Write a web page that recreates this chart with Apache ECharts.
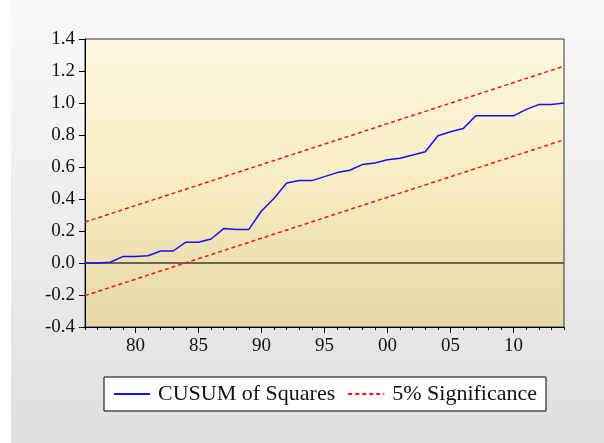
<!DOCTYPE html>
<html>
<head>
<meta charset="utf-8">
<script src="https://cdn.jsdelivr.net/npm/echarts@6/dist/echarts.min.js"></script>
<style>html,body{margin:0;padding:0;background:#fff}#c{width:604px;height:443px}</style>
</head>
<body>
<div id="c"></div>
<script>
const years = [1976,1977,1978,1979,1980,1981,1982,1983,1984,1985,1986,1987,1988,1989,1990,1991,1992,1993,1994,1995,1996,1997,1998,1999,2000,2001,2002,2003,2004,2005,2006,2007,2008,2009,2010,2011,2012,2013,2014];
const cusumSq = [0.0,0.0,0.005,0.04,0.04,0.045,0.075,0.075,0.13,0.13,0.15,0.215,0.21,0.21,0.325,0.405,0.50,0.515,0.515,0.54,0.565,0.58,0.615,0.625,0.645,0.655,0.675,0.695,0.795,0.82,0.84,0.92,0.92,0.92,0.92,0.96,0.99,0.99,1.0];
const upperYears = [1976, 2014];
const upperVals = [0.256, 1.23];
const lowerYears = [1976, 2014];
const lowerVals = [-0.204, 0.77];
const majorTickYears = [1980,1985,1990,1995,2000,2005,2010];
const yMin = -0.4, yMax = 1.4, yStep = 0.2;
const seriesNames = ['CUSUM of Squares', '5% Significance'];

const font = 'Liberation Serif';
const chart = echarts.init(document.getElementById('c'), null, {renderer:'canvas'});
const zip = (xs, ys) => xs.map((x,i)=>[x, ys[i]]);

chart.setOption({
  animation:false,
  backgroundColor:'#ffffff',
  graphic:[{
    type:'rect', left:11, top:0, z:-10,
    shape:{width:593, height:443},
    style:{fill:new echarts.graphic.LinearGradient(0,0,0,1,[{offset:0,color:'#fafafa'},{offset:1,color:'#e0e0e0'}])}
  }],
  grid:{
    left:85, top:39, width:479, height:288,
    show:true, borderColor:'#333', borderWidth:1,
    backgroundColor:new echarts.graphic.LinearGradient(0,0,0,1,[{offset:0,color:'#fdf8e2'},{offset:0.5,color:'#f8edc2'},{offset:1,color:'#e4d7a6'}])
  },
  xAxis:[{
    type:'value', min:1976, max:2014, interval:1,
    axisLine:{show:true, onZero:false, lineStyle:{color:'#000', width:1}},
    axisTick:{show:true, length:3, lineStyle:{color:'#000'}},
    splitLine:{show:false},
    axisLabel:{
      show:true, margin:10, color:'#111', fontFamily:font, fontSize:19,
      formatter:v => (majorTickYears.indexOf(v) >= 0 ? String(v).slice(2) : '')
    }
  },{
    type:'value', min:1976, max:2014, position:'bottom',
    axisLine:{show:false, onZero:false},
    axisTick:{show:true, length:6, customValues:majorTickYears, lineStyle:{color:'#000'}},
    splitLine:{show:false},
    axisLabel:{show:false}
  }],
  yAxis:{
    type:'value', min:yMin, max:yMax, interval:yStep,
    axisLine:{show:true, onZero:false, lineStyle:{color:'#000', width:1}},
    axisTick:{show:true, length:6, lineStyle:{color:'#000'}},
    splitLine:{show:false},
    axisLabel:{margin:10, color:'#111', fontFamily:font, fontSize:19, formatter:v=>v.toFixed(1)}
  },
  legend:{
    left:104, top:377, width:500, orient:'horizontal',
    data:seriesNames,
    backgroundColor:'#ffffff', borderColor:'#000', borderWidth:1,
    padding:[6,9,6,9], itemGap:12, itemWidth:36, itemHeight:14,
    itemStyle:{opacity:0},
    textStyle:{fontFamily:font, fontSize:22, color:'#111', padding:[0,0,0,3]}
  },
  series:[{
    name:seriesNames[0], type:'line', data:zip(years, cusumSq),
    symbol:'none', lineStyle:{color:'#1010ff', width:1.5}, itemStyle:{color:'#1010ff'},
    z:5,
    markLine:{silent:true, symbol:'none', label:{show:false},
      lineStyle:{color:'#6b6552', width:2, type:'solid'},
      data:[{yAxis:0}], z:3}
  },{
    name:seriesNames[1], type:'line', data:zip(upperYears, upperVals),
    symbol:'none', lineStyle:{color:'#ff1010', width:1.5, type:[4,3]}, itemStyle:{color:'#ff1010'}
  },{
    name:seriesNames[1], type:'line', data:zip(lowerYears, lowerVals),
    symbol:'none', lineStyle:{color:'#ff1010', width:1.5, type:[4,3]}, itemStyle:{color:'#ff1010'}
  }]
});
</script>
</body>
</html>
